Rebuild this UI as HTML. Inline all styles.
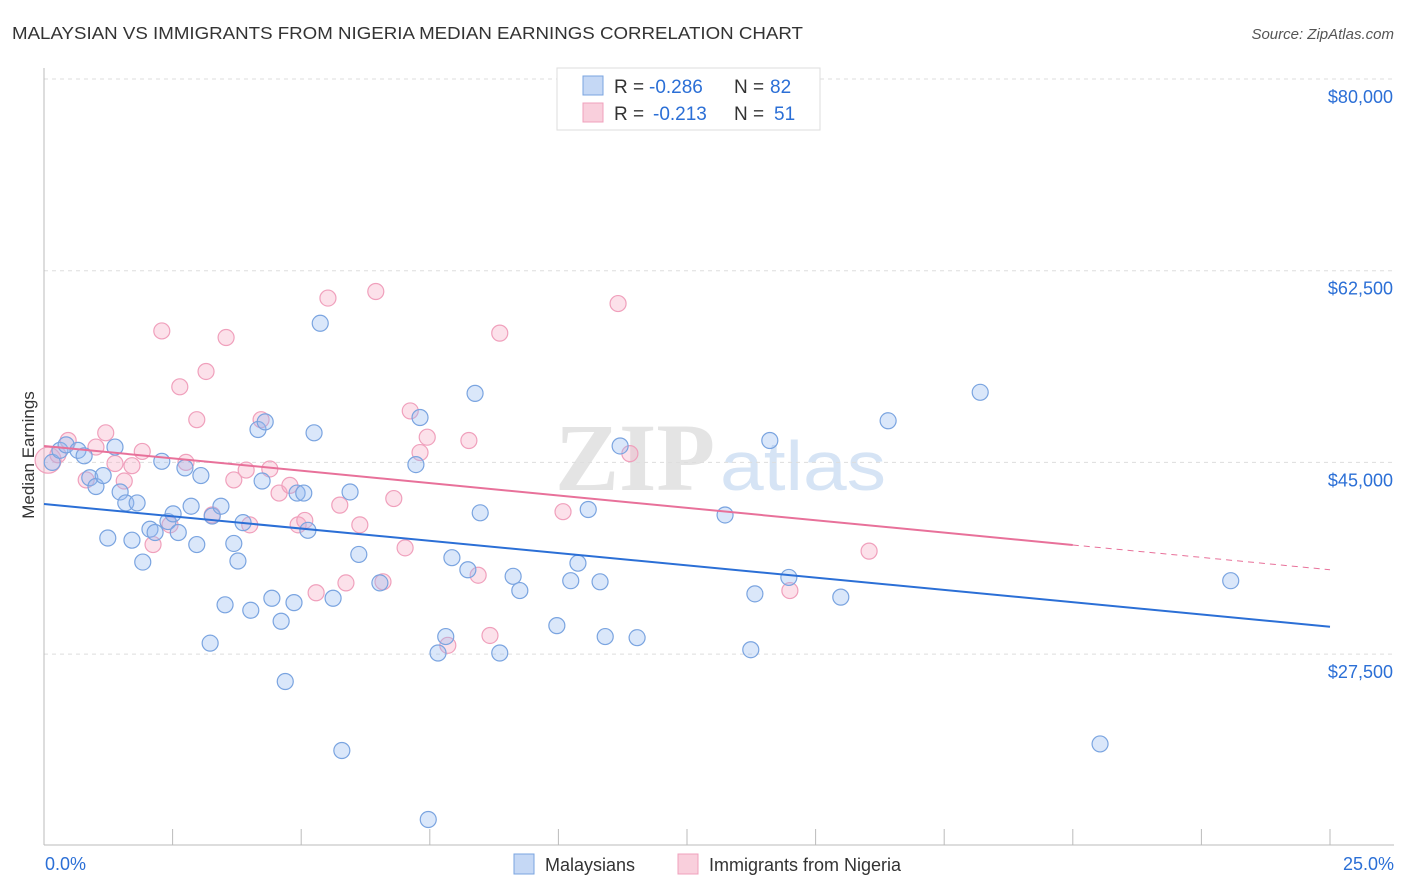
<!DOCTYPE html>
<html><head><meta charset="utf-8"><style>
body{margin:0;background:#fff;font-family:"Liberation Sans",sans-serif}
svg{display:block}
</style></head><body>
<svg id="chart" width="1406" height="892" xmlns="http://www.w3.org/2000/svg">
<text x="12" y="39" font-size="17.5" fill="#333" textLength="791" lengthAdjust="spacingAndGlyphs">MALAYSIAN VS IMMIGRANTS FROM NIGERIA MEDIAN EARNINGS CORRELATION CHART</text>
<text x="1394" y="39" font-size="15" fill="#555" font-style="italic" text-anchor="end">Source: ZipAtlas.com</text>
<text x="555" y="490" font-size="96" fill="#e4e4e4" font-family="Liberation Serif" font-weight="bold" textLength="160" lengthAdjust="spacingAndGlyphs">ZIP</text>
<text x="720" y="490" font-size="70" fill="#d6e4f5" textLength="166" lengthAdjust="spacingAndGlyphs">atlas</text>
<g id="grid"></g>
<g id="axes"></g>
<g id="points"></g>
<g id="trends"></g>
<text transform="translate(34,455) rotate(-90)" font-size="17" fill="#333" text-anchor="middle">Median Earnings</text>
<g>
<rect x="557" y="68" width="263" height="62" fill="#fff" stroke="#ddd"/>
<rect x="583" y="76" width="20" height="19" fill="#c5d8f5" stroke="#7aa4e0"/>
<rect x="583" y="103" width="20" height="19" fill="#f9cfdc" stroke="#f0a0bc"/>
<text x="614" y="93" font-size="19" fill="#333">R =</text>
<text x="649" y="93" font-size="19" fill="#2b6fd6">-0.286</text>
<text x="734" y="93" font-size="19" fill="#333">N =</text>
<text x="770" y="93" font-size="19" fill="#2b6fd6">82</text>
<text x="614" y="120" font-size="19" fill="#333">R =</text>
<text x="653" y="120" font-size="19" fill="#2b6fd6">-0.213</text>
<text x="734" y="120" font-size="19" fill="#333">N =</text>
<text x="774" y="120" font-size="19" fill="#2b6fd6">51</text>
</g>
<g>
<rect x="514" y="854" width="20" height="20" fill="#c5d8f5" stroke="#7aa4e0"/>
<text x="545" y="871" font-size="18" fill="#333">Malaysians</text>
<rect x="678" y="854" width="20" height="20" fill="#f9cfdc" stroke="#f0a0bc"/>
<text x="709" y="871" font-size="18" fill="#333">Immigrants from Nigeria</text>
</g>
</svg>
<script>
const yTicks=[27500,45000,62500,80000];
const yTickLabels=["$27,500","$45,000","$62,500","$80,000"];
const xEndLabels=["0.0%","25.0%"];
const blueX=[0.16,0.31,0.43,0.66,0.78,0.89,1.01,1.15,1.24,1.38,1.48,1.59,1.71,1.81,1.92,2.06,2.16,2.29,2.41,2.51,2.61,2.74,2.86,2.97,3.05,3.27,3.44,3.52,3.23,3.69,3.77,3.87,4.02,4.16,4.24,4.30,4.43,4.61,4.69,4.86,4.92,5.05,5.13,5.25,5.37,5.62,5.79,5.95,6.12,6.53,7.23,7.31,7.47,7.66,7.81,7.93,8.24,8.38,8.48,8.86,9.12,9.25,9.97,10.24,10.38,10.58,10.81,10.91,11.20,11.53,13.24,13.74,13.82,14.11,14.48,15.49,16.41,18.20,20.53,23.07];
const blueY=[45.0,46.1,46.6,46.1,45.6,43.6,42.8,43.8,38.1,46.4,42.3,41.3,37.9,41.3,35.9,38.9,38.6,45.1,39.6,40.3,38.6,44.5,41.0,37.5,43.8,40.1,41.0,32.0,28.5,37.6,36.0,39.5,31.5,48.0,43.3,48.7,32.6,30.5,25.0,32.2,42.2,42.2,38.8,47.7,57.7,32.6,18.7,42.3,36.6,34.0,44.8,49.1,12.4,27.6,29.1,36.3,35.2,51.3,40.4,27.6,34.6,33.3,30.1,34.2,35.8,40.7,34.1,29.1,46.5,29.0,40.2,27.9,33.0,47.0,34.5,32.7,48.8,51.4,19.3,34.2];
const pinkX=[0.08,0.27,0.47,0.82,1.01,1.20,1.38,1.56,1.71,1.91,2.12,2.29,2.45,2.64,2.76,2.97,3.15,3.27,3.54,3.69,3.93,4.00,4.22,4.39,4.57,4.78,4.94,5.07,5.29,5.52,5.75,5.87,6.14,6.45,6.59,6.80,7.02,7.12,7.31,7.45,7.85,8.26,8.44,8.67,8.86,10.09,11.16,11.39,14.50,16.04];
const pinkY=[45.2,45.7,47.0,43.4,46.4,47.7,44.9,43.3,44.7,46.0,37.5,57.0,39.3,51.9,45.0,48.9,53.3,40.2,56.4,43.4,44.3,39.3,48.9,44.4,42.2,42.9,39.3,39.7,33.1,60.0,41.1,34.0,39.3,60.6,34.1,41.7,37.2,49.7,45.9,47.3,28.3,47.0,34.7,29.2,56.8,40.5,59.5,45.8,33.3,36.9];
const blueTrend=[41.2,30.0];
const pinkTrend=[46.5,35.2];
const pinkSolidEnd=20;
const NS="http://www.w3.org/2000/svg";
const X0=44,X1=1330;
function xs(p){return X0+(X1-X0)*p/25;}
function ys(k){return 79+(80-k)*191.7/17.5;}
function mk(tag,attrs,parent){const e=document.createElementNS(NS,tag);for(const k in attrs)e.setAttribute(k,attrs[k]);parent.appendChild(e);return e;}
const grid=document.getElementById('grid'),axes=document.getElementById('axes'),pts=document.getElementById('points'),tr=document.getElementById('trends');
yTicks.forEach((t,i)=>{
 const l=mk('line',{x1:X0,x2:1394,y1:ys(t/1000),y2:ys(t/1000),stroke:'#ddd','stroke-dasharray':'4,4'},grid);
 
 
 const tx=mk('text',{x:1393,y:ys(t/1000)+24,'font-size':18,fill:'#2b6fd6','text-anchor':'end'},axes);
 tx.textContent=yTickLabels[i];
 
 
});
const ax=mk('line',{x1:X0,x2:X0,y1:68,y2:845,stroke:'#bbb'},axes);


const bx=mk('line',{x1:X0,x2:1394,y1:845,y2:845,stroke:'#bbb'},axes);


for(let i=0;i<=10;i++){
 const t=mk('line',{x1:xs(i*2.5),x2:xs(i*2.5),y1:829,y2:845,stroke:'#bbb'},axes);
 
 
}
[[0,'start',45],[25,'end',1394]].forEach((d,i)=>{
 const t=mk('text',{x:d[2],y:870,'font-size':18,fill:'#2b6fd6','text-anchor':d[1]},axes);
 t.textContent=xEndLabels[i];
 
 
});
pinkX.forEach((x,i)=>{
 const c=mk('circle',{cx:xs(x),cy:ys(pinkY[i]),r:i==0?13:8,fill:'rgba(245,170,195,0.35)',stroke:'#f0a0bc','stroke-width':1.2},pts);
 
 
});
blueX.forEach((x,i)=>{
 const c=mk('circle',{cx:xs(x),cy:ys(blueY[i]),r:8,fill:'rgba(150,185,240,0.35)',stroke:'#7aa4e0','stroke-width':1.2},pts);
 
 
});
const bl=mk('line',{x1:xs(0),y1:ys(blueTrend[0]),x2:xs(25),y2:ys(blueTrend[1]),stroke:'#2b6fd6','stroke-width':2},tr);


const pm=pinkTrend[0]+(pinkTrend[1]-pinkTrend[0])*pinkSolidEnd/25;
const pl=mk('line',{x1:xs(0),y1:ys(pinkTrend[0]),x2:xs(pinkSolidEnd),y2:ys(pm),stroke:'#e8719a','stroke-width':2},tr);


const pd=mk('line',{x1:xs(pinkSolidEnd),y1:ys(pm),x2:xs(25),y2:ys(pinkTrend[1]),stroke:'#e8719a','stroke-width':1,'stroke-dasharray':'6,5'},tr);


</script>
</body></html>
